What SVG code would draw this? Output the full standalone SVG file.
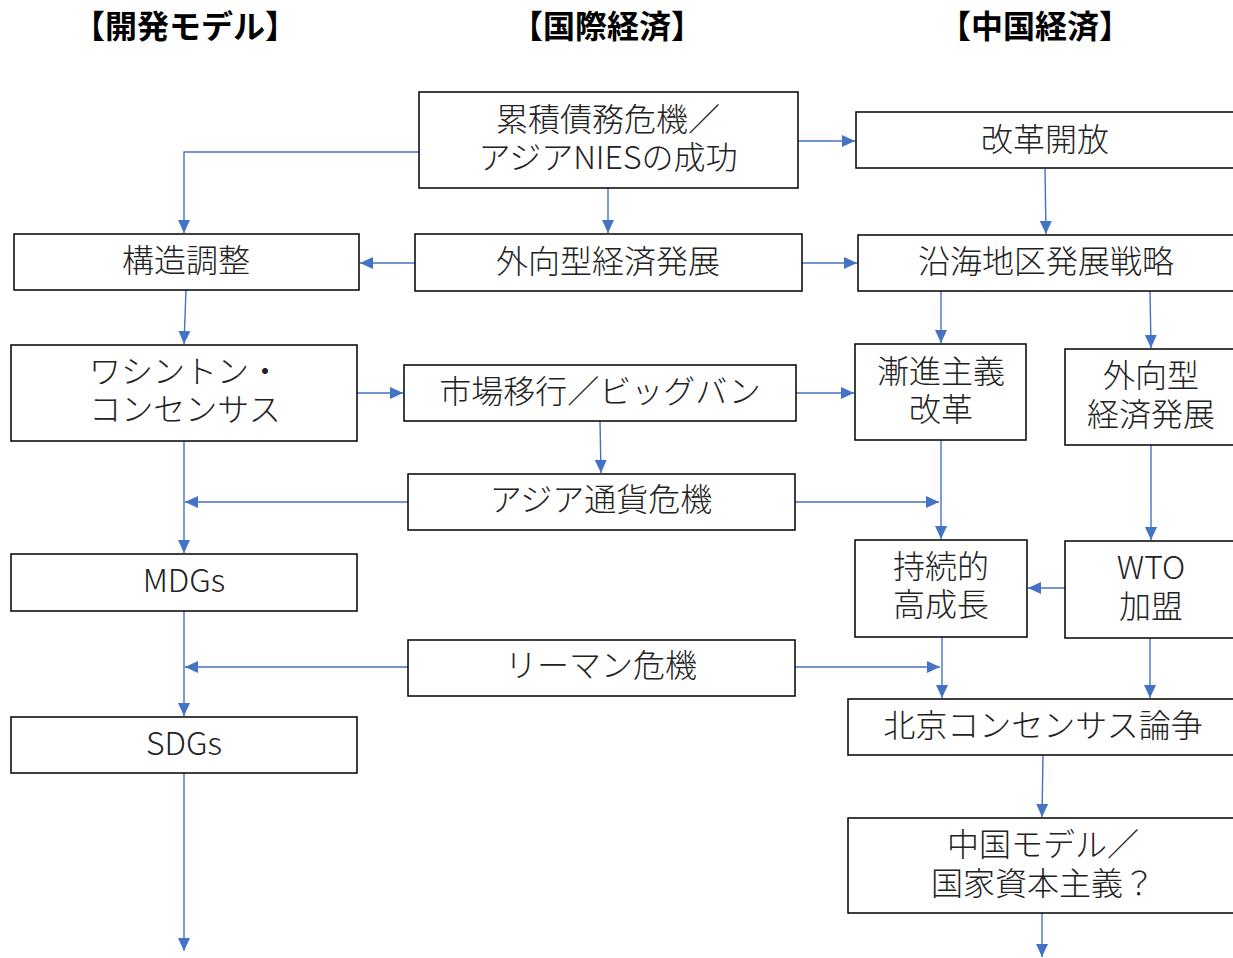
<svg xmlns="http://www.w3.org/2000/svg" width="1233" height="958" viewBox="0 0 1233 958">
<style>
.box{fill:#fff;stroke:#000;stroke-width:1.5}
.t{font-family:"Noto Sans CJK JP","Noto Sans",sans-serif;font-size:32px;font-weight:300;fill:#222;text-anchor:middle;dominant-baseline:central}
.h{font-family:"Noto Sans CJK JP","Noto Sans",sans-serif;font-size:32px;font-weight:bold;fill:#000;text-anchor:middle;dominant-baseline:central}
.c{fill:none;stroke:#4472C4;stroke-width:1.4;marker-end:url(#ah)}
</style>
<defs>
<marker id="ah" markerUnits="userSpaceOnUse" markerWidth="14" markerHeight="14" viewBox="0 0 14 14" refX="13" refY="7" orient="auto">
<path d="M0,1 L13,7 L0,13 Z" fill="#4472C4"/>
</marker>
</defs>
<rect width="1233" height="958" fill="#fff"/>
<g id="headers">
<text class="h" x="185" y="24">【開発モデル】</text>
<text class="h" x="607" y="24">【国際経済】</text>
<text class="h" x="1035" y="24">【中国経済】</text>
</g>
<g id="connectors">
<path class="c" d="M419,152 H184 V233"/>
<path class="c" d="M798,141 H855"/>
<path class="c" d="M608,188 V233"/>
<path class="c" d="M415,263 H360"/>
<path class="c" d="M802,263 H857"/>
<path class="c" d="M1045,169 L1046,234"/>
<path class="c" d="M186,290 L184,344"/>
<path class="c" d="M357,393 H403"/>
<path class="c" d="M796,393 H854"/>
<path class="c" d="M600,421 L601,473"/>
<path class="c" d="M941,291 V343"/>
<path class="c" d="M1150,291 L1151,348"/>
<path class="c" d="M184,441 V553"/>
<path class="c" d="M408,502 H185"/>
<path class="c" d="M795,502 H939"/>
<path class="c" d="M941,440 V539"/>
<path class="c" d="M1151,445 V540"/>
<path class="c" d="M1065,588 L1028,588"/>
<path class="c" d="M184,611 V716"/>
<path class="c" d="M408,667 H185"/>
<path class="c" d="M795,667 H940"/>
<path class="c" d="M942,637 V698"/>
<path class="c" d="M1150,633 V698"/>
<path class="c" d="M1043,755 L1042,817"/>
<path class="c" d="M1042,913 V957"/>
<path class="c" d="M184,768 V951"/>
</g>
<g id="n_debt"><rect class="box" x="419" y="92" width="379" height="96"/><text class="t" x="608" y="117">累積債務危機／</text><text class="t" x="608" y="155">アジアNIESの成功</text></g>
<g id="n_reform"><rect class="box" x="856" y="112" width="390" height="56"/><text class="t" x="1045" y="137">改革開放</text></g>
<g id="n_sap"><rect class="box" x="14" y="234" width="345" height="56"/><text class="t" x="186" y="258">構造調整</text></g>
<g id="n_export"><rect class="box" x="415" y="234" width="387" height="57"/><text class="t" x="608" y="259">外向型経済発展</text></g>
<g id="n_coastal"><rect class="box" x="858" y="235" width="390" height="56"/><text class="t" x="1046" y="259">沿海地区発展戦略</text></g>
<g id="n_wc"><rect class="box" x="11" y="345" width="346" height="96"/><text class="t" x="185" y="369">ワシントン・</text><text class="t" x="185" y="407">コンセンサス</text></g>
<g id="n_market"><rect class="box" x="404" y="365" width="392" height="56"/><text class="t" x="600" y="389">市場移行／ビッグバン</text></g>
<g id="n_gradual"><rect class="box" x="855" y="344" width="171" height="96"/><text class="t" x="941" y="369">漸進主義</text><text class="t" x="941" y="407">改革</text></g>
<g id="n_export2"><rect class="box" x="1065" y="349" width="180" height="96"/><text class="t" x="1151" y="373">外向型</text><text class="t" x="1151" y="412">経済発展</text></g>
<g id="n_afc"><rect class="box" x="408" y="474" width="387" height="56"/><text class="t" x="601" y="497">アジア通貨危機</text></g>
<g id="n_mdgs"><rect class="box" x="11" y="554" width="346" height="57"/><text class="t" x="184" y="578">MDGs</text></g>
<g id="n_growth"><rect class="box" x="855" y="540" width="172" height="97"/><text class="t" x="941" y="564">持続的</text><text class="t" x="941" y="602">高成長</text></g>
<g id="n_wto"><rect class="box" x="1065" y="541" width="180" height="97"/><text class="t" x="1151" y="565">WTO</text><text class="t" x="1151" y="604">加盟</text></g>
<g id="n_lehman"><rect class="box" x="408" y="640" width="387" height="56"/><text class="t" x="601" y="663">リーマン危機</text></g>
<g id="n_sdgs"><rect class="box" x="11" y="717" width="346" height="56"/><text class="t" x="184" y="741">SDGs</text></g>
<g id="n_beijing"><rect class="box" x="848" y="699" width="400" height="56"/><text class="t" x="1043" y="723">北京コンセンサス論争</text></g>
<g id="n_model"><rect class="box" x="848" y="818" width="400" height="95"/><text class="t" x="1043" y="842">中国モデル／</text><text class="t" x="1043" y="881">国家資本主義？</text></g>
</svg>
